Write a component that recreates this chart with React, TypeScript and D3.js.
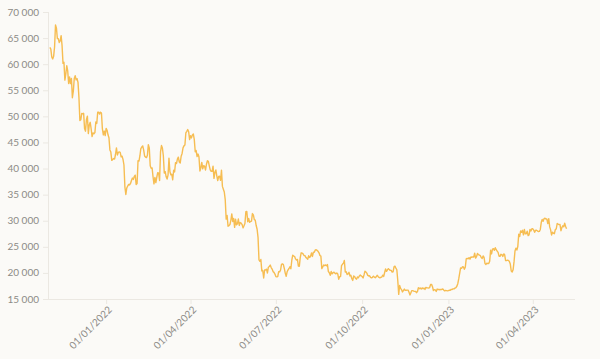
import React from "react";
import * as d3 from "d3";

// Daily closing values, starting 2021-11-02
const startDate = "2021-11-02";
const nov2021 = [63200, 62900, 61400, 61000, 61500, 63300, 67500, 66900, 64900, 64900, 64150, 64470, 65470, 63560, 60160, 60370, 56940, 58120, 59700, 58730, 56290, 57570, 56280, 57270, 53570, 54820, 57250, 57800, 57000];
const dec2021 = [57230, 56510, 53600, 49200, 49370, 50580, 50470, 50580, 47650, 47160, 49390, 50050, 46700, 48340, 48860, 47630, 46130, 46830, 46680, 46880, 48930, 48630, 50780, 50820, 50430, 50810, 50640, 47590, 46440, 47180, 46310];
const jan2022 = [47690, 47340, 46460, 45900, 43570, 43160, 41560, 41730, 41910, 41820, 42740, 43950, 42590, 43100, 43180, 43110, 42250, 42370, 41740, 40680, 36460, 35030, 36280, 36650, 36950, 36850, 37140, 37710, 38170, 37920, 38480];
const feb2022 = [38740, 36950, 37150, 41500, 41440, 42410, 43840, 44120, 44340, 43570, 42410, 42200, 42090, 42550, 44580, 43960, 40540, 40030, 40120, 38430, 37070, 38290, 37300, 38330, 39210, 39110, 37710, 43190];
const mar2022 = [44420, 43920, 42450, 39150, 39400, 38420, 37990, 38730, 41980, 39440, 38790, 38900, 37850, 39670, 39340, 41140, 40950, 41800, 42190, 41250, 41080, 42360, 42890, 43960, 44350, 44500, 46820, 47130, 47470, 47060, 45540];
const apr2022 = [46280, 45870, 46450, 46620, 45550, 43210, 43450, 42290, 42780, 42210, 39520, 40130, 41170, 39940, 40550, 40410, 39720, 40830, 41500, 41370, 40530, 39740, 39470, 39470, 40460, 38120, 39240, 39740, 38600, 37710];
const may2022 = [38470, 38530, 37750, 39700, 36580, 36040, 35500, 34060, 30300, 31020, 28940, 29050, 29280, 30080, 31300, 29860, 30420, 28720, 30310, 29200, 29430, 30320, 29100, 29650, 29560, 29270, 28630, 29030, 29470, 31730, 31790];
const jun2022 = [29800, 30450, 29700, 29860, 29910, 31370, 31130, 30210, 30110, 29080, 28360, 26760, 22490, 22210, 22580, 20380, 20470, 19020, 20550, 20570, 20720, 19990, 21090, 21230, 21500, 21030, 20730, 20250, 20100, 19780];
const jul2022 = [19300, 19240, 19300, 20230, 20190, 20550, 21640, 21730, 21590, 20850, 19970, 19330, 20210, 20590, 20840, 21190, 20790, 22430, 23400, 23230, 23160, 22680, 22460, 22580, 21310, 21250, 22950, 23850, 23800, 23650, 23340];
const aug2022 = [23310, 22980, 22820, 22630, 23290, 22960, 23180, 23810, 23160, 23960, 23960, 24400, 24440, 24310, 24130, 23850, 23340, 23210, 20830, 21140, 21520, 21400, 21530, 21370, 21600, 20260, 20040, 19550, 20290, 19810, 20050];
const sep2022 = [20130, 19950, 19830, 20000, 19800, 18790, 19290, 19320, 21380, 21650, 21830, 22400, 20170, 20240, 19700, 19800, 20110, 19420, 19540, 18880, 18550, 19410, 19300, 18930, 18800, 19230, 19080, 19410, 19590, 19420];
const oct2022 = [19310, 19040, 19620, 20340, 20160, 19960, 19530, 19420, 19450, 19140, 19050, 19160, 19380, 19190, 19070, 19260, 19550, 19330, 19140, 19050, 19170, 19210, 19570, 19330, 20080, 20770, 20290, 20600, 20820, 20630, 20490];
const nov2022 = [20480, 20160, 20210, 21150, 21300, 20920, 20600, 18540, 15880, 17590, 17040, 16800, 16350, 16620, 16900, 16660, 16690, 16700, 16700, 16280, 15780, 16190, 16610, 16600, 16520, 16460, 16440, 16220, 16440, 17170];
const dec2022 = [16980, 17090, 16910, 17130, 16970, 17090, 16840, 17220, 17130, 17130, 17090, 17210, 17780, 17810, 17360, 16630, 16780, 16740, 16440, 16900, 16820, 16830, 16780, 16840, 16830, 16920, 16710, 16550, 16640, 16600, 16550];
const jan2023 = [16610, 16670, 16670, 16850, 16830, 16950, 16940, 17090, 17180, 17440, 17940, 18850, 19930, 20950, 20870, 21170, 21160, 20690, 21080, 22680, 22780, 22710, 22930, 22640, 23050, 23010, 23080, 23030, 23770, 22840, 23140];
const feb2023 = [23720, 23490, 23430, 23330, 22940, 22760, 23260, 22960, 21800, 21630, 21860, 21790, 21790, 22220, 24330, 23640, 24570, 24640, 24330, 24830, 24440, 24190, 23950, 23200, 23170, 23560, 23490, 23150];
const mar2023 = [23650, 23470, 22360, 22350, 22430, 22410, 22200, 21700, 20360, 20190, 20630, 22160, 24200, 24750, 24380, 25060, 27420, 26970, 28040, 27770, 28170, 27310, 28330, 27490, 27490, 27990, 27140, 27270, 28350, 28030, 28480];
const apr2023 = [28450, 28200, 27790, 28170, 28170, 28040, 27920, 27950, 28330, 29650, 30240, 29890, 30400, 30490, 30320, 30320, 29450, 30400, 28820, 28250, 27270, 27820, 27590, 27520, 28310, 28420, 29470, 29340, 29250, 29270];
const may2023 = [28090, 28680, 29030, 28850, 29530, 28900, 28450];

const yTicks = [15000, 20000, 25000, 30000, 35000, 40000, 45000, 50000, 55000, 60000, 65000, 70000];
const xTickDates = ["2022-01-01", "2022-04-01", "2022-07-01", "2022-10-01", "2023-01-01", "2023-04-01"];
const xDomain = ["2021-10-31", "2023-05-16"];

const BG = "#fbfaf7";
const LINE = "#f6bd52";
const AXIS = "#ebe8e2";
const TEXT = "#8c8a86";
const FONT = "Lato, 'Open Sans', sans-serif";

export default function App() {
  const W = 600, H = 359;
  const left = 48, right = 575, top = 12, bottom = 299;
  const parse = d3.timeParse("%Y-%m-%d");
  const start = parse(startDate) as Date;
  const values = [
    ...nov2021, ...dec2021, ...jan2022, ...feb2022, ...mar2022, ...apr2022, ...may2022,
    ...jun2022, ...jul2022, ...aug2022, ...sep2022, ...oct2022, ...nov2022, ...dec2022,
    ...jan2023, ...feb2023, ...mar2023, ...apr2023, ...may2023,
  ];
  const data = values.map((v, i) => ({ date: d3.timeDay.offset(start, i), value: v }));

  const x = d3.scaleTime().domain(xDomain.map((d) => parse(d) as Date)).range([left, right]);
  const y = d3.scaleLinear().domain([15000, 70000]).range([bottom, top]);
  const line = d3.line<{ date: Date; value: number }>()
    .x((d) => x(d.date))
    .y((d) => y(d.value));

  const fmt = d3.formatLocale({ decimal: ",", thousands: " ", grouping: [3], currency: ["", ""] }).format(",d");
  const tfmt = d3.timeFormat("%d/%m/%Y");

  return (
    <div style={{ position: "absolute", left: 0, top: 0, width: W, height: H, background: BG }}>
      <svg width={W} height={H} style={{ display: "block" }} fontFamily={FONT}>
        <rect x={0} y={0} width={W} height={H} fill={BG} />
        <line x1={left + 0.5} x2={left + 0.5} y1={top} y2={bottom} stroke={AXIS} strokeWidth={1} />
        <line x1={left} x2={right} y1={bottom + 0.5} y2={bottom + 0.5} stroke={AXIS} strokeWidth={1} />
        {yTicks.map((t) => (
          <g key={t} transform={`translate(0,${y(t)})`}>
            <line x1={left - 5} x2={left} y1={0.5} y2={0.5} stroke={AXIS} />
            <text x={left - 9} y={0} dy="0.35em" textAnchor="end" fontSize={10} fill={TEXT}>
              {fmt(t)}
            </text>
          </g>
        ))}
        {xTickDates.map((s) => {
          const d = parse(s) as Date;
          const px = x(d);
          return (
            <g key={s}>
              <line x1={px + 0.5} x2={px + 0.5} y1={bottom} y2={bottom + 5} stroke={AXIS} />
              <text
                transform={`translate(${px + 4},${bottom + 9}) rotate(-45)`}
                textAnchor="end"
                dy="0.35em"
                fontSize={10}
                fill={TEXT}
              >
                {tfmt(d)}
              </text>
            </g>
          );
        })}
        <path d={line(data) as string} fill="none" stroke={LINE} strokeWidth={1.4} strokeLinejoin="round" />
      </svg>
    </div>
  );
}
